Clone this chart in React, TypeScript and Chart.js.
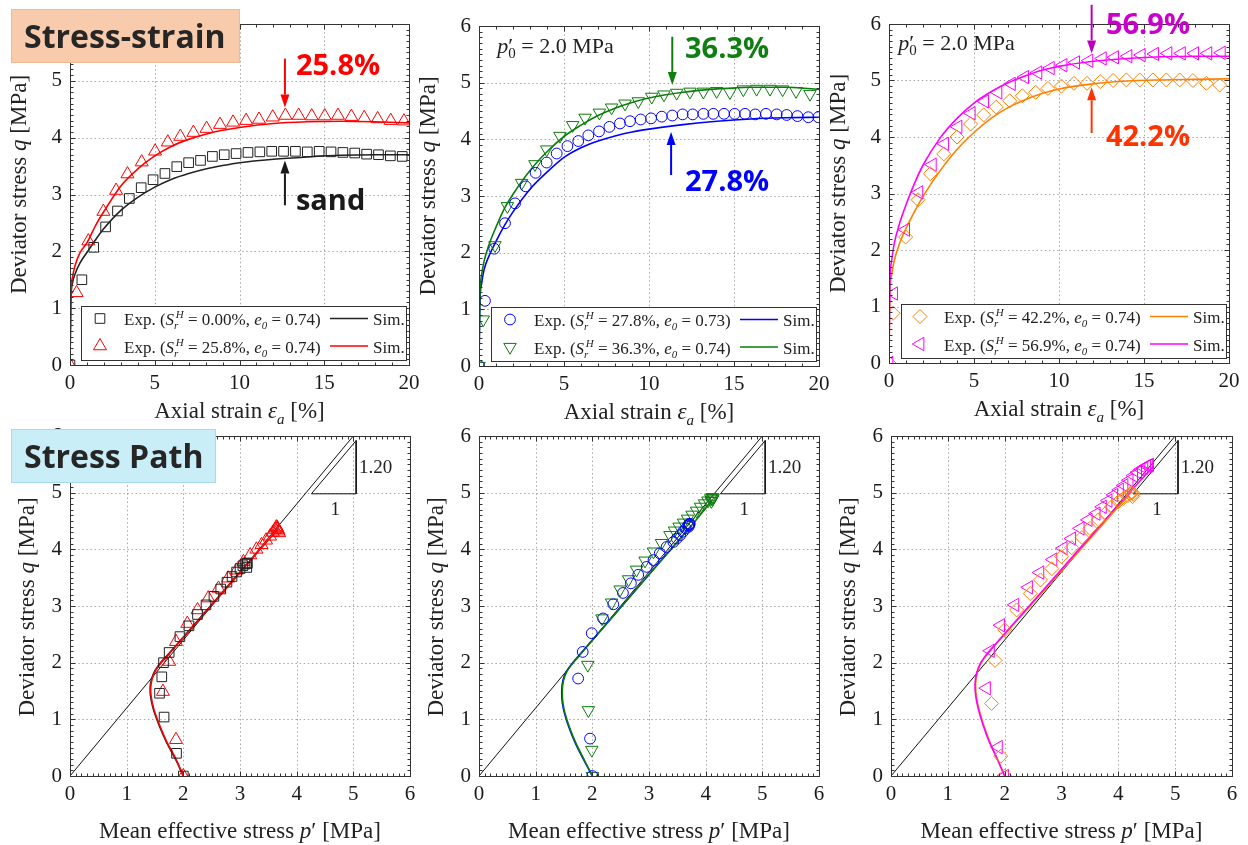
import React, { useEffect, useRef } from "react";
import { Chart, registerables } from "chart.js";

Chart.register(...registerables);

// ================= DATA =================
// --- Top row: axial strain [%] vs deviator stress q [MPa] (experiments) ---
const sandStrain = [0, 0.7, 1.4, 2.1, 2.8, 3.5, 4.2, 4.9, 5.6, 6.3, 7.0, 7.7, 8.4, 9.1, 9.8, 10.5, 11.2, 11.9, 12.6, 13.3, 14.0, 14.7, 15.4, 16.1, 16.8, 17.5, 18.2, 18.9, 19.6];
const sandQ = [0, 1.5, 2.07, 2.43, 2.71, 2.93, 3.12, 3.26, 3.37, 3.49, 3.56, 3.6, 3.67, 3.7, 3.72, 3.74, 3.75, 3.76, 3.76, 3.76, 3.75, 3.76, 3.75, 3.74, 3.73, 3.71, 3.7, 3.68, 3.67];

const s258Strain = [0, 0.39, 1.08, 1.97, 2.72, 3.39, 4.23, 5.02, 5.77, 6.51, 7.28, 8.06, 8.85, 9.62, 10.39, 11.15, 11.96, 12.71, 13.49, 14.26, 15.03, 15.81, 16.6, 17.36, 18.15, 18.92, 19.7];
const s258Q = [0, 1.27, 2.18, 2.7, 3.07, 3.36, 3.57, 3.76, 3.92, 4.02, 4.09, 4.16, 4.23, 4.27, 4.3, 4.32, 4.36, 4.39, 4.39, 4.38, 4.38, 4.39, 4.37, 4.35, 4.33, 4.3, 4.29];

const s278Strain = [0, 0.35, 0.9, 1.53, 2.12, 2.75, 3.33, 3.98, 4.57, 5.2, 5.84, 6.43, 7.06, 7.67, 8.29, 8.88, 9.51, 10.12, 10.75, 11.37, 11.98, 12.57, 13.2, 13.78, 14.41, 15.04, 15.65, 16.25, 16.88, 17.51, 18.1, 18.73, 19.37, 19.96];
const s278Q = [0, 1.15, 2.07, 2.52, 2.87, 3.17, 3.41, 3.59, 3.75, 3.88, 3.97, 4.07, 4.14, 4.22, 4.28, 4.32, 4.35, 4.37, 4.4, 4.42, 4.44, 4.44, 4.45, 4.45, 4.45, 4.45, 4.45, 4.44, 4.45, 4.44, 4.43, 4.41, 4.39, 4.39];

const s363Strain = [0, 0.25, 0.94, 1.67, 2.51, 3.29, 3.98, 4.76, 5.51, 6.24, 7.08, 7.8, 8.59, 9.37, 10.16, 10.88, 11.63, 12.41, 13.2, 13.98, 14.76, 15.55, 16.33, 17.12, 17.86, 18.65, 19.47];
const s363Q = [0, 0.82, 2.13, 2.82, 3.23, 3.56, 3.82, 4.06, 4.25, 4.38, 4.47, 4.56, 4.63, 4.67, 4.75, 4.79, 4.82, 4.84, 4.84, 4.85, 4.83, 4.88, 4.89, 4.89, 4.88, 4.85, 4.8];

const s422Strain = [0, 0.24, 0.98, 1.71, 2.43, 3.22, 4.0, 4.8, 5.57, 6.31, 7.1, 7.84, 8.63, 9.35, 10.14, 10.88, 11.65, 12.43, 13.18, 13.96, 14.75, 15.53, 16.31, 17.1, 17.88, 18.67, 19.45];
const s422Q = [0, 0.88, 2.23, 2.89, 3.35, 3.7, 4.0, 4.23, 4.39, 4.53, 4.64, 4.73, 4.79, 4.86, 4.9, 4.95, 4.95, 4.98, 5.0, 5.01, 5.01, 5.01, 5.01, 5.01, 5.0, 4.95, 4.92];

const s569Strain = [0, 0.27, 0.98, 1.76, 2.55, 3.27, 4.06, 4.84, 5.63, 6.41, 7.2, 7.98, 8.76, 9.49, 10.24, 10.98, 11.76, 12.55, 13.27, 14.06, 14.84, 15.63, 16.41, 17.2, 17.98, 18.76, 19.55];
const s569Q = [0, 1.23, 2.36, 3.02, 3.51, 3.88, 4.18, 4.42, 4.63, 4.79, 4.94, 5.06, 5.14, 5.22, 5.27, 5.32, 5.35, 5.39, 5.41, 5.43, 5.45, 5.47, 5.48, 5.48, 5.48, 5.48, 5.49];

// --- Top row: simulations ---
const simStrain = [0, 0.05, 0.15, 0.3, 0.6, 1, 1.5, 2, 3, 4, 5, 6, 7, 8, 9, 10, 12, 14, 16, 18, 20];
const sandSimQ = [0, 1.1, 1.45, 1.6, 1.8, 1.98, 2.2, 2.4, 2.72, 2.95, 3.13, 3.27, 3.37, 3.45, 3.51, 3.56, 3.62, 3.66, 3.69, 3.7, 3.7];
const s258SimQ = [0, 1.2, 1.55, 1.75, 1.98, 2.15, 2.45, 2.7, 3.15, 3.45, 3.68, 3.85, 3.97, 4.06, 4.13, 4.18, 4.25, 4.28, 4.29, 4.28, 4.26];
const s278SimQ = [0, 1.1, 1.45, 1.7, 1.95, 2.2, 2.48, 2.72, 3.12, 3.42, 3.68, 3.85, 3.97, 4.06, 4.13, 4.18, 4.26, 4.32, 4.36, 4.38, 4.39];
const s363SimQ = [0, 1.2, 1.6, 1.85, 2.15, 2.45, 2.78, 3.03, 3.45, 3.78, 4.05, 4.25, 4.42, 4.55, 4.65, 4.73, 4.83, 4.89, 4.92, 4.92, 4.88];
const s422SimQ = [0, 1.2, 1.55, 1.8, 2.1, 2.38, 2.68, 2.95, 3.4, 3.78, 4.08, 4.33, 4.52, 4.66, 4.77, 4.85, 4.94, 4.99, 5.01, 5.02, 5.03];
const s569SimQ = [0, 1.4, 1.8, 2.1, 2.45, 2.8, 3.18, 3.5, 3.98, 4.33, 4.6, 4.8, 4.96, 5.08, 5.18, 5.25, 5.34, 5.39, 5.42, 5.43, 5.43];

// --- Bottom row: mean effective stress p' vs q (experiments) ---
const sandPathP = [2.0, 1.88, 1.66, 1.58, 1.62, 1.65, 1.75, 1.94, 2.1, 2.25, 2.4, 2.54, 2.66, 2.77, 2.86, 2.94, 3.0, 3.05, 3.09, 3.12, 3.13, 3.12];
const sandPathQ = [0, 0.4, 1.04, 1.46, 1.75, 2.0, 2.18, 2.46, 2.65, 2.85, 3.02, 3.17, 3.3, 3.42, 3.52, 3.6, 3.66, 3.71, 3.74, 3.76, 3.75, 3.68];
const s258PathP = [2.0, 1.87, 1.64, 1.75, 1.87, 2.07, 2.25, 2.44, 2.62, 2.79, 2.94, 3.06, 3.18, 3.29, 3.38, 3.46, 3.53, 3.58, 3.62, 3.64, 3.65, 3.66, 3.67, 3.68, 3.69];
const s258PathQ = [0, 0.64, 1.49, 2.02, 2.37, 2.69, 2.93, 3.14, 3.31, 3.49, 3.63, 3.78, 3.9, 4.0, 4.08, 4.16, 4.23, 4.3, 4.35, 4.39, 4.39, 4.37, 4.35, 4.32, 4.29];
const s278PathP = [2.0, 1.96, 1.75, 1.83, 1.99, 2.19, 2.37, 2.54, 2.68, 2.81, 2.96, 3.08, 3.19, 3.31, 3.43, 3.49, 3.55, 3.6, 3.65, 3.69, 3.71, 3.72, 3.71, 3.7];
const s278PathQ = [0, 0.66, 1.72, 2.19, 2.52, 2.78, 3.03, 3.23, 3.4, 3.55, 3.69, 3.81, 3.93, 4.04, 4.13, 4.19, 4.25, 4.31, 4.37, 4.42, 4.45, 4.45, 4.43, 4.4];
const s363PathP = [2.0, 1.99, 1.93, 1.92, 2.17, 2.34, 2.49, 2.64, 2.78, 2.93, 3.08, 3.22, 3.37, 3.45, 3.53, 3.61, 3.68, 3.76, 3.84, 3.91, 3.98, 4.04, 4.09, 4.12, 4.13, 4.12, 4.1];
const s363PathQ = [0, 0.46, 1.16, 1.96, 2.78, 3.06, 3.29, 3.47, 3.64, 3.8, 3.96, 4.11, 4.25, 4.33, 4.4, 4.47, 4.54, 4.61, 4.68, 4.75, 4.81, 4.86, 4.9, 4.92, 4.91, 4.88, 4.85];
const s422PathP = [2.0, 1.93, 1.77, 1.83, 2.0, 2.21, 2.45, 2.63, 2.83, 3.0, 3.18, 3.36, 3.5, 3.65, 3.77, 3.88, 4.0, 4.09, 4.17, 4.22, 4.25, 4.26, 4.25];
const s422PathQ = [0, 0.35, 1.28, 2.04, 2.58, 2.93, 3.22, 3.46, 3.66, 3.87, 4.03, 4.21, 4.37, 4.52, 4.63, 4.75, 4.84, 4.9, 4.95, 4.99, 5.0, 4.97, 4.93];
const s569PathP = [2.0, 1.89, 1.68, 1.75, 1.93, 2.18, 2.42, 2.62, 2.85, 3.03, 3.18, 3.33, 3.47, 3.61, 3.72, 3.82, 3.92, 4.02, 4.1, 4.19, 4.27, 4.34, 4.4, 4.45, 4.5, 4.53, 4.55];
const s569PathQ = [0, 0.51, 1.55, 2.21, 2.66, 3.02, 3.33, 3.59, 3.82, 4.02, 4.19, 4.37, 4.52, 4.63, 4.75, 4.86, 4.96, 5.05, 5.13, 5.22, 5.3, 5.36, 5.41, 5.44, 5.47, 5.48, 5.49];

// --- Bottom row: simulations ---
const sandSimPathP = [2.0, 1.86, 1.7, 1.57, 1.47, 1.42, 1.42, 1.47, 1.56, 1.67, 1.78, 2.4, 3.0, 3.12];
const sandSimPathQ = [0, 0.3, 0.6, 0.9, 1.18, 1.42, 1.62, 1.8, 1.95, 2.08, 2.2, 2.91, 3.6, 3.74];
const s258SimPathP = [2.0, 1.87, 1.71, 1.58, 1.48, 1.43, 1.43, 1.48, 1.57, 1.68, 1.79, 2.4, 3.0, 3.4, 3.68];
const s258SimPathQ = [0, 0.3, 0.6, 0.9, 1.18, 1.42, 1.62, 1.8, 1.95, 2.08, 2.2, 2.9, 3.59, 4.05, 4.37];
const s278SimPathP = [2.0, 1.84, 1.7, 1.59, 1.51, 1.47, 1.46, 1.48, 1.54, 1.63, 1.74, 2.4, 3.1, 3.75];
const s278SimPathQ = [0, 0.3, 0.58, 0.85, 1.1, 1.3, 1.5, 1.68, 1.84, 1.97, 2.1, 2.86, 3.67, 4.42];
const s363SimPathP = [2.0, 1.85, 1.71, 1.6, 1.52, 1.48, 1.47, 1.49, 1.55, 1.64, 1.75, 2.4, 3.1, 3.75, 4.12];
const s363SimPathQ = [0, 0.3, 0.58, 0.85, 1.1, 1.3, 1.5, 1.68, 1.84, 1.97, 2.1, 2.86, 3.67, 4.42, 4.88];
const s422SimPathP = [2.0, 1.87, 1.74, 1.63, 1.55, 1.5, 1.49, 1.52, 1.59, 1.68, 1.78, 2.5, 3.3, 4.24];
const s422SimPathQ = [0, 0.3, 0.6, 0.9, 1.17, 1.42, 1.64, 1.83, 2.0, 2.13, 2.25, 3.06, 3.96, 5.02];
const s569SimPathP = [2.0, 1.87, 1.73, 1.62, 1.54, 1.49, 1.48, 1.51, 1.58, 1.67, 1.77, 2.5, 3.3, 4.24, 4.62];
const s569SimPathQ = [0, 0.3, 0.6, 0.9, 1.17, 1.42, 1.64, 1.83, 2.0, 2.13, 2.25, 3.08, 3.99, 5.05, 5.47];

// critical state line (slope 1.20) and slope triangle
const cslP = [0, 5];
const cslQ = [0, 6];
const triP = [4.26, 5.05, 5.05, 4.26];
const triQ = [4.98, 5.92, 4.98, 4.98];

// legend labels
const legendSr = ["0.00%", "25.8%", "27.8%", "36.3%", "42.2%", "56.9%"];
const legendE0 = ["0.74", "0.74", "0.73", "0.74", "0.74", "0.74"];

// axis ticks
const strainTicks = { max: 20, step: 5, minor: 1 };
const stressTicks = { max: 6, step: 1, minor: 0.1 };

// ================= STYLE =================
const SERIF = '"Liberation Serif", "Times New Roman", Times, serif';
const SANS = '"Open Sans", "Noto Sans", Arial, sans-serif';
const C_BLACK = "#222222";
const C_RED = "#ff0000";
const C_BLUE = "#0000ff";
const C_GREEN = "#0a7d0a";
const C_ORANGE = "#ff8000";
const C_MAGENTA = "#ff00ff";
const TITLE_SIZE = 23;
const TICK_SIZE = 21;
const LEG_SIZE = 17;

Chart.defaults.font.family = SERIF;

type Seg = { t: string; i?: boolean; sub?: boolean; sup?: boolean; stack?: boolean };

function drawRich(ctx: any, segs: Seg[], x: number, y: number, size: number, align: string, color: string) {
  const small = Math.round(size * 0.66);
  const fontOf = (s: Seg) => `${s.i ? "italic " : ""}${s.sub || s.sup ? small : size}px ${SERIF}`;
  const items: any[] = [];
  let cx = 0;
  let pend = 0;
  for (const s of segs) {
    ctx.font = fontOf(s);
    const w = ctx.measureText(s.t).width;
    const dy = s.sub ? size * 0.24 : s.sup ? -size * 0.4 : 0;
    items.push({ s, x: cx + (s.sup ? size * 0.1 : 0), dy });
    if (s.stack) pend = Math.max(pend, w + (s.sup ? size * 0.1 : 0));
    else {
      cx += Math.max(w, pend);
      pend = 0;
    }
  }
  const total = cx;
  const x0 = align === "center" ? x - total / 2 : align === "right" ? x - total : x;
  ctx.save();
  ctx.fillStyle = color;
  ctx.textAlign = "left";
  ctx.textBaseline = "alphabetic";
  for (const it of items) {
    ctx.font = fontOf(it.s);
    ctx.fillText(it.s.t, x0 + it.x, y + it.dy);
  }
  ctx.restore();
  return total;
}

function drawMarker(ctx: any, style: string, x: number, y: number, r: number, rot: number, color: string) {
  ctx.save();
  ctx.strokeStyle = color;
  ctx.lineWidth = 1;
  ctx.beginPath();
  if (style === "circle") ctx.arc(x, y, r, 0, Math.PI * 2);
  else if (style === "rect") {
    const s = r * Math.SQRT1_2;
    ctx.rect(x - s, y - s, 2 * s, 2 * s);
  } else if (style === "rectRot") {
    ctx.moveTo(x - r, y);
    ctx.lineTo(x, y - r);
    ctx.lineTo(x + r, y);
    ctx.lineTo(x, y + r);
    ctx.closePath();
  } else {
    let a = (rot * Math.PI) / 180;
    for (let k = 0; k < 3; k++) {
      const px = x + Math.sin(a) * r;
      const py = y - Math.cos(a) * r;
      if (k === 0) ctx.moveTo(px, py);
      else ctx.lineTo(px, py);
      a += (2 * Math.PI) / 3;
    }
    ctx.closePath();
  }
  ctx.stroke();
  ctx.restore();
}

function drawArrow(ctx: any, x: number, y1: number, y2: number, color: string) {
  const dir = y2 > y1 ? 1 : -1;
  const hl = 13;
  const hw = 4.5;
  ctx.save();
  ctx.strokeStyle = color;
  ctx.fillStyle = color;
  ctx.lineWidth = 2;
  ctx.beginPath();
  ctx.moveTo(x, y1);
  ctx.lineTo(x, y2 - dir * hl);
  ctx.stroke();
  ctx.beginPath();
  ctx.moveTo(x, y2);
  ctx.lineTo(x - hw, y2 - dir * hl);
  ctx.lineTo(x + hw, y2 - dir * hl);
  ctx.closePath();
  ctx.fill();
  ctx.restore();
}

function boldText(ctx: any, text: string, x: number, y: number, size: number, color: string) {
  ctx.save();
  ctx.font = `bold ${size}px ${SANS}`;
  ctx.fillStyle = color;
  ctx.textAlign = "left";
  ctx.textBaseline = "alphabetic";
  ctx.fillText(text, x, y);
  ctx.restore();
}

function labelBox(ctx: any, x: number, y: number, w: number, h: number, fill: string, stroke: string, text: string) {
  ctx.save();
  ctx.fillStyle = fill;
  ctx.fillRect(x, y, w, h);
  ctx.strokeStyle = stroke;
  ctx.lineWidth = 1;
  ctx.strokeRect(x + 0.5, y + 0.5, w - 1, h - 1);
  ctx.restore();
  boldText(ctx, text, x + 13, y + 39, 32, "#262626");
}

const expLabel = (k: number): Seg[] => [
  { t: "Exp. (" },
  { t: "S", i: true },
  { t: "H", i: true, sup: true, stack: true },
  { t: "r", i: true, sub: true },
  { t: " = " + legendSr[k] + ", " },
  { t: "e", i: true },
  { t: "0", i: true, sub: true },
  { t: " = " + legendE0[k] + ")" },
];

type LegRow = { style: string; r: number; rot: number; color: string; k: number };

function drawLegend(ctx: any, a: any, rows: LegRow[]) {
  const r = a.right - 3;
  const b = a.bottom - 5;
  const l = r - 325;
  const t = b - 54;
  ctx.save();
  ctx.fillStyle = "#ffffff";
  ctx.fillRect(l, t, r - l, b - t);
  ctx.strokeStyle = "#333";
  ctx.lineWidth = 1;
  ctx.strokeRect(Math.round(l) + 0.5, Math.round(t) + 0.5, Math.round(r - l), Math.round(b - t));
  ctx.restore();
  rows.forEach((row, k) => {
    const cy = t + 12.5 + k * 27.5;
    drawMarker(ctx, row.style, l + 19, cy, row.r, row.rot, row.color);
    drawRich(ctx, expLabel(row.k), l + 43, cy + 6.7, LEG_SIZE, "left", "#222");
    ctx.save();
    ctx.strokeStyle = row.color;
    ctx.lineWidth = 1.5;
    ctx.beginPath();
    ctx.moveTo(l + 249, cy);
    ctx.lineTo(l + 287, cy);
    ctx.stroke();
    ctx.restore();
    drawRich(ctx, [{ t: "Sim." }], l + 292, cy + 6.7, LEG_SIZE, "left", "#222");
  });
}

// ================= DATASETS =================
const pts = (xs: number[], ys: number[]) => xs.map((x, i) => ({ x, y: ys[i] }));

function expSet(xs: number[], ys: number[], color: string, style: string, r: number, rot = 0) {
  return {
    data: pts(xs, ys),
    showLine: false,
    pointStyle: style,
    pointRadius: r,
    pointRotation: rot,
    pointBorderColor: color,
    pointBackgroundColor: "rgba(0,0,0,0)",
    pointBorderWidth: 1,
    borderColor: color,
    backgroundColor: "rgba(0,0,0,0)",
    order: 0,
  };
}

function simSet(xs: number[], ys: number[], color: string, mono: boolean, order: number) {
  return {
    data: pts(xs, ys),
    showLine: true,
    pointRadius: 0,
    borderColor: color,
    backgroundColor: color,
    borderWidth: 1.6,
    fill: false,
    tension: mono ? 0 : 0.35,
    cubicInterpolationMode: mono ? "monotone" : "default",
    order,
  };
}

function straightSet(xs: number[], ys: number[]) {
  return {
    data: pts(xs, ys),
    showLine: true,
    pointRadius: 0,
    borderColor: "#111",
    borderWidth: 1,
    fill: false,
    tension: 0,
    order: 5,
  };
}

// ================= PANELS =================
const yTitle: Seg[] = [{ t: "Deviator stress " }, { t: "q", i: true }, { t: " [MPa]" }];
const strainTitle: Seg[] = [{ t: "Axial strain " }, { t: "ε", i: true }, { t: "a", i: true, sub: true }, { t: " [%]" }];
const pTitle: Seg[] = [{ t: "Mean effective stress " }, { t: "p", i: true }, { t: "′" }, { t: " [MPa]" }];
const p0Label: Seg[] = [{ t: "p", i: true }, { t: "′", stack: true }, { t: "0", sub: true }, { t: " = 2.0 MPa" }];

type Spec = {
  key: string;
  left: number;
  top: number;
  w: number;
  h: number;
  area: number[];
  xt: { max: number; step: number; minor: number };
  yt: { max: number; step: number; minor: number };
  datasets: any[];
  bottom: boolean;
  extra: (ctx: any, X: (v: number) => number, Y: (v: number) => number, a: any, off: number[]) => void;
};

function slopeLabels(ctx: any, X: (v: number) => number, Y: (v: number) => number) {
  ctx.save();
  ctx.font = `19px ${SERIF}`;
  ctx.fillStyle = "#222";
  ctx.textBaseline = "alphabetic";
  ctx.textAlign = "left";
  ctx.fillText("1.20", X(5.1), Y(5.35));
  ctx.textAlign = "center";
  ctx.fillText("1", X(4.68), Y(4.61));
  ctx.restore();
}

const specs: Spec[] = [
  {
    key: "p1",
    left: 0, top: 0, w: 428, h: 440,
    area: [70, 24, 409, 365],
    xt: strainTicks, yt: stressTicks, bottom: false,
    datasets: [
      expSet(sandStrain, sandQ, C_BLACK, "rect", 6.8),
      expSet(s258Strain, s258Q, C_RED, "triangle", 7.5),
      simSet(simStrain, sandSimQ, C_BLACK, true, 2),
      simSet(simStrain, s258SimQ, C_RED, true, 1),
    ],
    extra: (ctx, X, Y, a, off) => {
      boldText(ctx, "25.8%", X(13.33), Y(5.105), 29, "#ff0000");
      drawArrow(ctx, X(12.68), Y(5.39), Y(4.53), "#ff0000");
      boldText(ctx, "sand", X(13.33), Y(2.72), 29, "#1a1a1a");
      drawArrow(ctx, X(12.68), Y(2.81), Y(3.6), "#1a1a1a");
      drawLegend(ctx, a, [
        { style: "rect", r: 6.8, rot: 0, color: C_BLACK, k: 0 },
        { style: "triangle", r: 7.5, rot: 0, color: C_RED, k: 1 },
      ]);
      labelBox(ctx, 11 - off[0], 9 - off[1], 229, 54, "#f8cbad", "#f2b894", "Stress-strain");
    },
  },
  {
    key: "p2",
    left: 415, top: 0, w: 428, h: 440,
    area: [479, 26, 819, 366],
    xt: strainTicks, yt: stressTicks, bottom: false,
    datasets: [
      expSet(s278Strain, s278Q, C_BLUE, "circle", 5.4),
      expSet(s363Strain, s363Q, C_GREEN, "triangle", 7.2, 180),
      simSet(simStrain, s278SimQ, C_BLUE, true, 2),
      simSet(simStrain, s363SimQ, C_GREEN, true, 1),
    ],
    extra: (ctx, X, Y, a) => {
      drawRich(ctx, p0Label, X(1.08), Y(5.53), 22, "left", "#222");
      boldText(ctx, "36.3%", X(12.12), Y(5.43), 29, "#0f7f12");
      drawArrow(ctx, X(11.37), Y(5.81), Y(4.96), "#0f7f12");
      boldText(ctx, "27.8%", X(12.12), Y(3.08), 29, "#0000ff");
      drawArrow(ctx, X(11.3), Y(3.37), Y(4.13), "#0000ff");
      drawLegend(ctx, a, [
        { style: "circle", r: 5.4, rot: 0, color: C_BLUE, k: 2 },
        { style: "triangle", r: 7.2, rot: 180, color: C_GREEN, k: 3 },
      ]);
    },
  },
  {
    key: "p3",
    left: 830, top: 0, w: 418, h: 440,
    area: [889, 24, 1229, 363],
    xt: strainTicks, yt: stressTicks, bottom: false,
    datasets: [
      expSet(s422Strain, s422Q, C_ORANGE, "rectRot", 7),
      expSet(s569Strain, s569Q, C_MAGENTA, "triangle", 7.7, -90),
      simSet(simStrain, s422SimQ, C_ORANGE, true, 2),
      simSet(simStrain, s569SimQ, C_MAGENTA, true, 1),
    ],
    extra: (ctx, X, Y, a) => {
      drawRich(ctx, p0Label, X(0.55), Y(5.54), 22, "left", "#222");
      boldText(ctx, "56.9%", X(12.76), Y(5.82), 29, "#cc00cc");
      drawArrow(ctx, X(11.92), Y(6.34), Y(5.48), "#bb00bb");
      boldText(ctx, "42.2%", X(12.76), Y(3.84), 29, "#ff3300");
      drawArrow(ctx, X(11.92), Y(4.07), Y(4.88), "#ff3300");
      drawLegend(ctx, a, [
        { style: "rectRot", r: 7, rot: 0, color: C_ORANGE, k: 4 },
        { style: "triangle", r: 7.7, rot: -90, color: C_MAGENTA, k: 5 },
      ]);
    },
  },
  {
    key: "p4",
    left: 0, top: 422, w: 420, h: 423,
    area: [70, 436, 410, 776],
    xt: stressTicks, yt: stressTicks, bottom: true,
    datasets: [
      expSet(sandPathP, sandPathQ, C_BLACK, "rect", 6.8),
      expSet(s258PathP, s258PathQ, C_RED, "triangle", 7.5),
      simSet(sandSimPathP, sandSimPathQ, C_BLACK, false, 2),
      simSet(s258SimPathP, s258SimPathQ, C_RED, false, 1),
      straightSet(cslP, cslQ),
      straightSet(triP, triQ),
    ],
    extra: (ctx, X, Y, a, off) => {
      slopeLabels(ctx, X, Y);
      labelBox(ctx, 11 - off[0], 429 - off[1], 205, 54, "#c9eef7", "#a9dbe6", "Stress Path");
    },
  },
  {
    key: "p5",
    left: 415, top: 422, w: 420, h: 423,
    area: [479, 436, 819, 776],
    xt: stressTicks, yt: stressTicks, bottom: true,
    datasets: [
      expSet(s278PathP, s278PathQ, C_BLUE, "circle", 5.4),
      expSet(s363PathP, s363PathQ, C_GREEN, "triangle", 7.2, 180),
      simSet(s278SimPathP, s278SimPathQ, C_BLUE, false, 2),
      simSet(s363SimPathP, s363SimPathQ, C_GREEN, false, 1),
      straightSet(cslP, cslQ),
      straightSet(triP, triQ),
    ],
    extra: (ctx, X, Y) => slopeLabels(ctx, X, Y),
  },
  {
    key: "p6",
    left: 830, top: 422, w: 418, h: 423,
    area: [891, 436, 1232, 776],
    xt: stressTicks, yt: stressTicks, bottom: true,
    datasets: [
      expSet(s422PathP, s422PathQ, C_ORANGE, "rectRot", 7),
      expSet(s569PathP, s569PathQ, C_MAGENTA, "triangle", 7.7, -90),
      simSet(s422SimPathP, s422SimPathQ, C_ORANGE, false, 2),
      simSet(s569SimPathP, s569SimPathQ, C_MAGENTA, false, 1),
      straightSet(cslP, cslQ),
      straightSet(triP, triQ),
    ],
    extra: (ctx, X, Y) => slopeLabels(ctx, X, Y),
  },
];

function makeDeco(spec: Spec) {
  const ticksOf = (t: any) => {
    const n = Math.round(t.max / t.minor);
    const per = Math.round(t.step / t.minor);
    const out: { v: number; major: boolean }[] = [];
    for (let i = 0; i <= n; i++) out.push({ v: i * t.minor, major: i % per === 0 });
    return out;
  };
  return {
    id: "deco_" + spec.key,
    beforeDatasetsDraw(chart: any) {
      const { ctx, chartArea: a, scales } = chart;
      const sx = scales.x;
      const sy = scales.y;
      ctx.save();
      ctx.strokeStyle = "#a8a8a8";
      ctx.lineWidth = 1;
      ctx.setLineDash([1.5, 2.6]);
      for (const t of ticksOf(spec.xt)) {
        if (!t.major || t.v <= 0 || t.v >= spec.xt.max - 1e-9) continue;
        const px = Math.round(sx.getPixelForValue(t.v)) + 0.5;
        ctx.beginPath();
        ctx.moveTo(px, a.top);
        ctx.lineTo(px, a.bottom);
        ctx.stroke();
      }
      for (const t of ticksOf(spec.yt)) {
        if (!t.major || t.v <= 0 || t.v >= spec.yt.max - 1e-9) continue;
        const py = Math.round(sy.getPixelForValue(t.v)) + 0.5;
        ctx.beginPath();
        ctx.moveTo(a.left, py);
        ctx.lineTo(a.right, py);
        ctx.stroke();
      }
      ctx.restore();
    },
    afterDatasetsDraw(chart: any) {
      const { ctx, chartArea: a, scales } = chart;
      const sx = scales.x;
      const sy = scales.y;
      const L = Math.round(a.left) + 0.5;
      const R = Math.round(a.right) + 0.5;
      const T = Math.round(a.top) + 0.5;
      const B = Math.round(a.bottom) + 0.5;
      ctx.save();
      ctx.strokeStyle = "#333";
      ctx.lineWidth = 1;
      ctx.strokeRect(L, T, R - L, B - T);
      ctx.beginPath();
      for (const t of ticksOf(spec.xt)) {
        const px = Math.round(sx.getPixelForValue(t.v)) + 0.5;
        const len = t.major ? 5 : 3;
        ctx.moveTo(px, B);
        ctx.lineTo(px, B - len);
        ctx.moveTo(px, T);
        ctx.lineTo(px, T + len);
      }
      for (const t of ticksOf(spec.yt)) {
        const py = Math.round(sy.getPixelForValue(t.v)) + 0.5;
        const len = t.major ? 5 : 3;
        ctx.moveTo(L, py);
        ctx.lineTo(L + len, py);
        ctx.moveTo(R, py);
        ctx.lineTo(R - len, py);
      }
      ctx.stroke();
      ctx.restore();
    },
    afterDraw(chart: any) {
      const { ctx, chartArea: a, scales } = chart;
      const X = (v: number) => scales.x.getPixelForValue(v);
      const Y = (v: number) => scales.y.getPixelForValue(v);
      const cxm = (a.left + a.right) / 2;
      const cym = (a.top + a.bottom) / 2;
      if (spec.bottom) {
        drawRich(ctx, pTitle, cxm, a.bottom + 62, TITLE_SIZE, "center", "#222");
        ctx.save();
        ctx.translate(a.left - 36, cym + 1);
        ctx.rotate(-Math.PI / 2);
        drawRich(ctx, yTitle, 0, 0, TITLE_SIZE, "center", "#222");
        ctx.restore();
      } else {
        drawRich(ctx, strainTitle, cxm, a.bottom + 53, TITLE_SIZE, "center", "#222");
        ctx.save();
        ctx.translate(a.left - 44, cym - 10);
        ctx.rotate(-Math.PI / 2);
        drawRich(ctx, yTitle, 0, 0, TITLE_SIZE, "center", "#222");
        ctx.restore();
      }
      spec.extra(ctx, X, Y, a, [spec.left, spec.top]);
    },
  };
}

function buildConfig(spec: Spec): any {
  const yW = spec.area[0] - spec.left;
  const padTop = spec.area[1] - spec.top;
  const padRight = spec.left + spec.w - spec.area[2];
  const xH = spec.top + spec.h - spec.area[3];
  const tickFont = { family: SERIF, size: TICK_SIZE };
  return {
    type: "scatter",
    data: { datasets: spec.datasets },
    options: {
      responsive: false,
      maintainAspectRatio: false,
      animation: false,
      events: [],
      layout: { padding: { left: 0, top: padTop, right: padRight, bottom: 0 } },
      plugins: { legend: { display: false }, tooltip: { enabled: false }, title: { display: false } },
      scales: {
        x: {
          type: "linear",
          position: "bottom",
          min: 0,
          max: spec.xt.max,
          grid: { display: false, drawTicks: false },
          border: { display: false },
          ticks: { stepSize: spec.xt.step, autoSkip: false, maxRotation: 0, padding: 6, color: "#1a1a1a", font: tickFont },
          afterFit: (s: any) => {
            s.height = xH;
            s.paddingLeft = 0;
            s.paddingRight = 0;
          },
        },
        y: {
          type: "linear",
          position: "left",
          min: 0,
          max: spec.yt.max,
          grid: { display: false, drawTicks: false },
          border: { display: false },
          ticks: { stepSize: spec.yt.step, autoSkip: false, padding: 8, color: "#1a1a1a", font: tickFont },
          afterFit: (s: any) => {
            s.width = yW;
            s.paddingTop = 0;
            s.paddingBottom = 0;
          },
        },
      },
    },
    plugins: [makeDeco(spec)],
  };
}

function Panel({ spec }: { spec: Spec }) {
  const ref = useRef<HTMLCanvasElement>(null);
  useEffect(() => {
    const chart = new Chart(ref.current as HTMLCanvasElement, buildConfig(spec));
    return () => chart.destroy();
  }, [spec]);
  return (
    <canvas
      ref={ref}
      width={spec.w}
      height={spec.h}
      style={{ position: "absolute", left: spec.left, top: spec.top, width: spec.w, height: spec.h }}
    />
  );
}

export default function App() {
  return (
    <div style={{ position: "fixed", left: 0, top: 0, width: 1248, height: 845, background: "#ffffff", overflow: "hidden" }}>
      {specs.map((s) => (
        <Panel key={s.key} spec={s} />
      ))}
    </div>
  );
}
